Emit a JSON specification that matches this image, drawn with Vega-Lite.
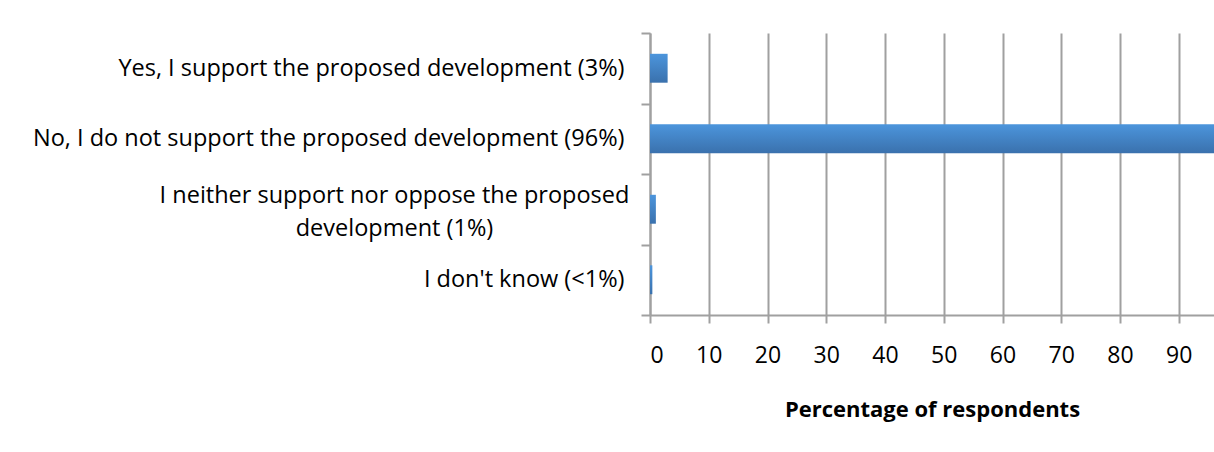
{
  "$schema": "https://vega.github.io/schema/vega-lite/v6.json",
  "autosize": {"type": "none"},
  "width": 564,
  "height": 282,
  "padding": {"left": 650, "top": 33, "right": 0, "bottom": 137},
  "background": "white",
  "config": {
    "view": {"stroke": null},
    "font": "Open Sans",
    "axis": {"labelFont": "Open Sans", "titleFont": "Open Sans", "labelColor": "#000000", "titleColor": "#000000"}
  },
  "data": {
    "values": [
      {"response": "Yes, I support the proposed development (3%)", "pct": 3},
      {"response": "No, I do not support the proposed development (96%)", "pct": 96},
      {"response": "I neither support nor oppose the proposed development (1%)", "pct": 1},
      {"response": "I don't know (<1%)", "pct": 0.4}
    ]
  },
  "mark": {
    "type": "bar",
    "height": {"band": 0.41},
    "color": {
      "gradient": "linear",
      "x1": 0, "y1": 0, "x2": 0, "y2": 1,
      "stops": [
        {"offset": 0, "color": "#4c95dc"},
        {"offset": 1, "color": "#3a71ad"}
      ]
    }
  },
  "encoding": {
    "y": {
      "field": "response",
      "type": "nominal",
      "sort": null,
      "scale": {"paddingInner": 0, "paddingOuter": 0},
      "axis": {
        "title": null,
        "tickBand": "extent",
        "domainColor": "#a0a0a0",
        "domainWidth": 2,
        "tickColor": "#a0a0a0",
        "tickWidth": 2,
        "tickSize": 9,
        "labelFontSize": 23.5,
        "labelLimit": 0,
        "labelLineHeight": 33,
        "labelExpr": "datum.value == 'I neither support nor oppose the proposed development (1%)' ? ['I neither support nor oppose the proposed', 'development (1%)'] : datum.label",
        "labelAlign": {"condition": {"test": "datum.value == 'I neither support nor oppose the proposed development (1%)'", "value": "center"}, "value": "right"},
        "labelPadding": {"condition": {"test": "datum.value == 'I neither support nor oppose the proposed development (1%)'", "value": 247}, "value": 17},
        "labelOffset": {"condition": {"test": "datum.value == 'I neither support nor oppose the proposed development (1%)'", "value": -14}, "value": 0}
      }
    },
    "x": {
      "field": "pct",
      "type": "quantitative",
      "scale": {"domain": [0, 96], "nice": false},
      "axis": {
        "title": "Percentage of respondents",
        "values": [0, 10, 20, 30, 40, 50, 60, 70, 80, 90],
        "grid": true,
        "gridColor": "#a0a0a0",
        "gridWidth": 2,
        "gridOpacity": 1,
        "domainColor": "#a0a0a0",
        "domainWidth": 2,
        "tickColor": "#a0a0a0",
        "tickWidth": 2,
        "tickSize": 8,
        "labelFontSize": 23,
        "labelPadding": 21,
        "titleFontSize": 22,
        "titleFontWeight": "bold",
        "titlePadding": 32
      }
    }
  }
}
